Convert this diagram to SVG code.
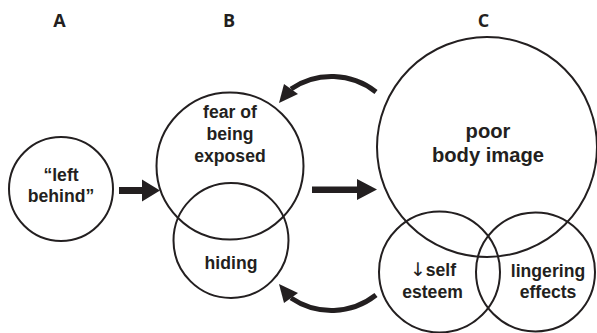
<svg xmlns="http://www.w3.org/2000/svg" width="597" height="333" viewBox="0 0 597 333">
<style>
.c{fill:none;stroke:#231f20;stroke-width:2}
.t{font-family:"Liberation Sans",Arial,sans-serif;font-weight:bold;font-size:17.6px;fill:#231f20;text-anchor:middle}
.big{font-size:20.2px}
.h{font-family:"Open Sans","Noto Sans",sans-serif;font-weight:bold;font-size:18px;fill:#231f20;text-anchor:middle}
.arw{font-family:"DejaVu Sans",sans-serif;font-weight:normal;font-size:19px}
.arc{fill:none;stroke:#231f20;stroke-width:5}
.ah{fill:#231f20}
</style>
<rect width="597" height="333" fill="#fff"/>
<g id="headers">
<text class="h" x="59.5" y="26.5">A</text>
<text class="h" x="229" y="26.5">B</text>
<text class="h" x="483.5" y="26.5">C</text>
</g>
<g id="node-left-behind">
<circle class="c" cx="61" cy="189" r="52"/>
<text class="t" x="61" y="180.5">“left</text>
<text class="t" x="61" y="201.7">behind”</text>
</g>
<g id="node-fear">
<circle class="c" cx="230" cy="166" r="73.5"/>
<text class="t" x="230" y="118.3">fear of</text>
<text class="t" x="230" y="140">being</text>
<text class="t" x="230" y="161.7">exposed</text>
</g>
<g id="node-hiding">
<circle class="c" cx="231" cy="240.5" r="57.5"/>
<text class="t" x="231" y="269.3">hiding</text>
</g>
<g id="node-body-image">
<circle class="c" cx="487" cy="147" r="110"/>
<text class="t big" x="488" y="137.7">poor</text>
<text class="t big" x="488" y="161.7">body image</text>
</g>
<g id="node-self-esteem">
<circle class="c" cx="439.5" cy="272" r="60.5"/>
<text class="t" x="433" y="276"><tspan class="arw">↓</tspan>self</text>
<text class="t" x="432.5" y="297.7">esteem</text>
</g>
<g id="node-lingering">
<circle class="c" cx="535.5" cy="272" r="59.5"/>
<text class="t" x="548" y="276.5">lingering</text>
<text class="t" x="548" y="297.7">effects</text>
</g>
<g id="connectors">
<polygon class="ah" points="119,187 142,187 142,179.5 160,190.5 142,201.5 142,194 119,194"/>
<polygon class="ah" points="312,186.5 357,186.5 357,179 377,189.5 357,200 357,193 312,193"/>
<path class="arc" d="M 376 92 A 72 72 0 0 0 291 89"/>
<polygon class="ah" points="279,103 284,84 298,94"/>
<path class="arc" d="M 376 295 A 72 72 0 0 1 291 298"/>
<polygon class="ah" points="279,284 284,303 298,293"/>
</g>
</svg>
